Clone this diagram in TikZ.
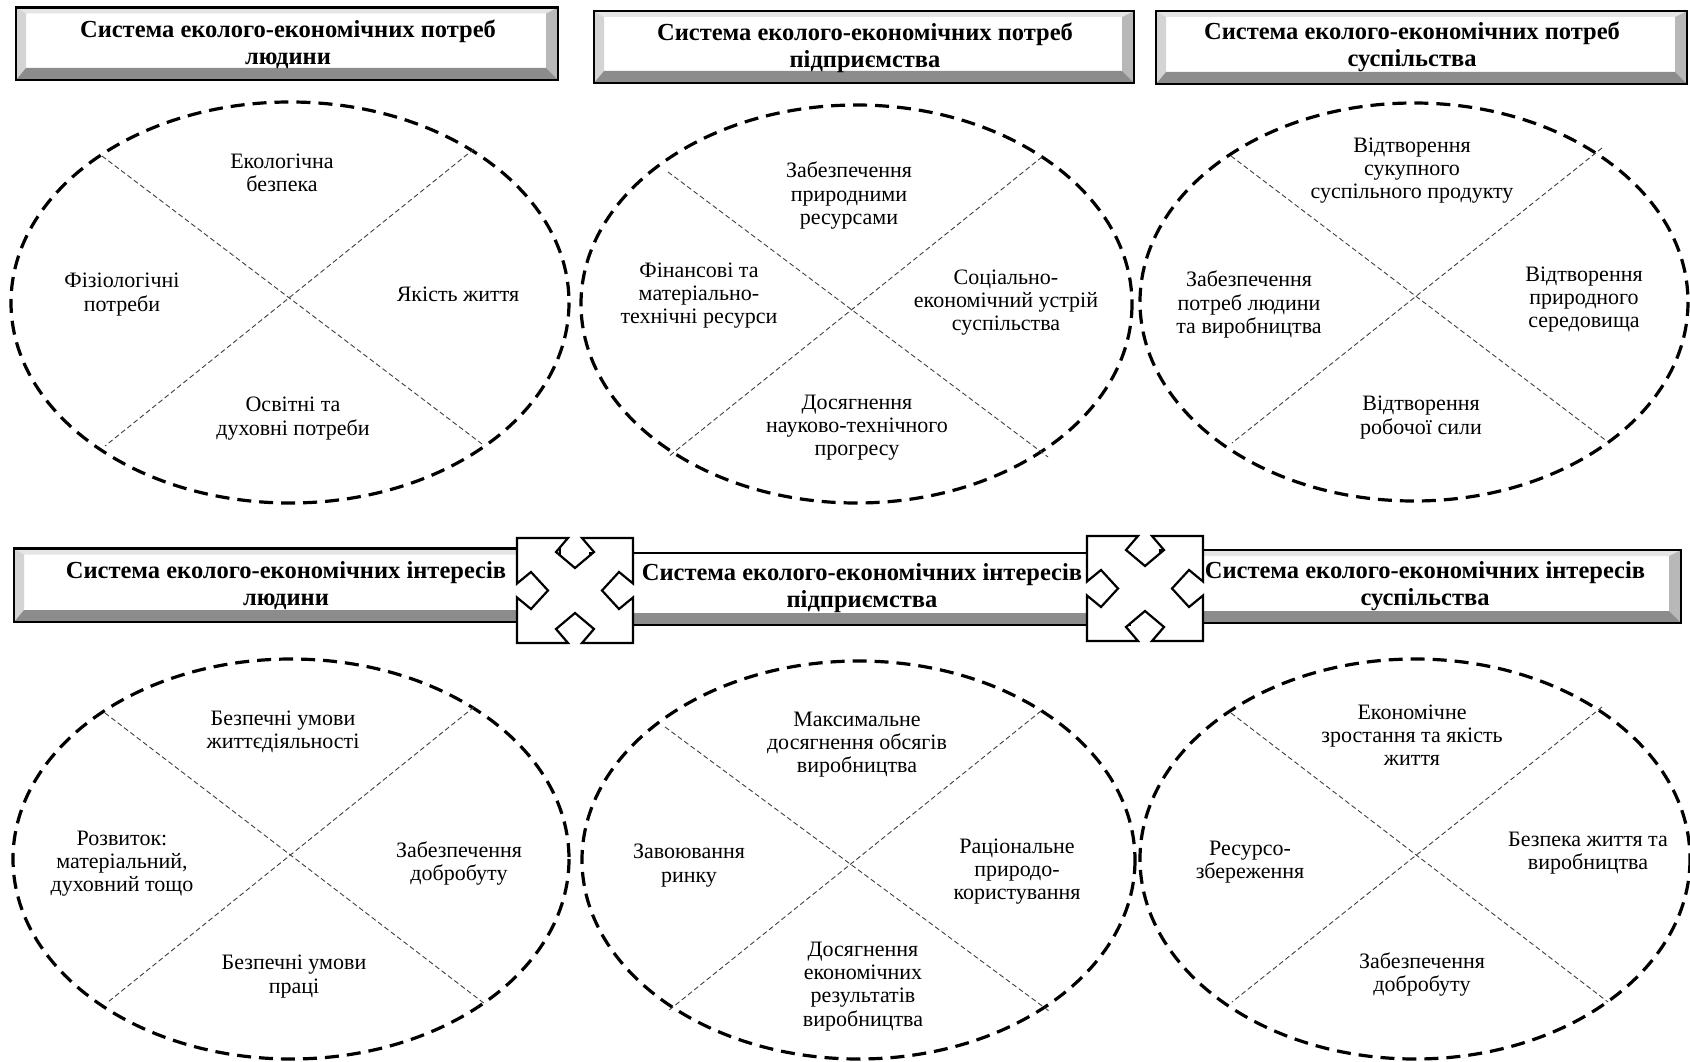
\documentclass[tikz,border=0pt]{standalone}
\usepackage{fontspec}
\setmainfont{Liberation Serif}
\newcommand{\bevbox}[8]{%
 \fill[bvtop] (#1,#2) -- (#3,#2) -- ({#3-#7},{#2+#6}) -- ({#1+#5},{#2+#6}) -- cycle;
 \fill[bvleft] (#1,#2) -- ({#1+#5},{#2+#6}) -- ({#1+#5},{#4-#8}) -- (#1,#4) -- cycle;
 \fill[bvright] (#3,#2) -- (#3,#4) -- ({#3-#7},{#4-#8}) -- ({#3-#7},{#2+#6}) -- cycle;
 \fill[bvbot] (#1,#4) -- (#3,#4) -- ({#3-#7},{#4-#8}) -- ({#1+#5},{#4-#8}) -- cycle;
 \draw[line width=2.5pt] (#1,#2) rectangle (#3,#4);
}
% cross box: x1 y1 x2 y2
\newcommand{\xbox}[4]{%
 \pgfmathsetmacro{\cxx}{(#1+#3)/2}\pgfmathsetmacro{\cyy}{(#2+#4)/2}%
 \filldraw[fill=white,line width=2.2pt,line join=miter]
  (#1,#2) -- ({\cxx-7},#2) -- ({\cxx-19},{#2+14}) -- (\cxx,{#2+30}) -- ({\cxx+19},{#2+14}) -- ({\cxx+7},#2)
  -- (#3,#2) -- (#3,{\cyy-7}) -- ({#3-14},{\cyy-18.5}) -- ({#3-31},\cyy) -- ({#3-14},{\cyy+18.5}) -- (#3,{\cyy+7})
  -- (#3,#4) -- ({\cxx+7},#4) -- ({\cxx+19},{#4-14}) -- (\cxx,{#4-30}) -- ({\cxx-19},{#4-14}) -- ({\cxx-7},#4)
  -- (#1,#4) -- (#1,{\cyy+7}) -- ({#1+14},{\cyy+18.5}) -- ({#1+31},\cyy) -- ({#1+14},{\cyy-18.5}) -- (#1,{\cyy-7}) -- cycle;
}
\begin{document}
\begin{tikzpicture}[x=1pt,y=-1pt,
 ell/.style={line width=3.2pt, dash pattern=on 14pt off 8pt},
 xline/.style={line width=0.9pt, dash pattern=on 5pt off 3pt, black!75},
 txt/.style={align=center, inner sep=0pt, yshift=-2.5pt, font=\fontsize{22}{23.2}\selectfont},
 htxt/.style={align=center, inner sep=0pt, yshift=-1.5pt, font=\bfseries\fontsize{24.5}{27}\selectfont},
 bvtop/.style={fill=black!10},
 bvleft/.style={fill=black!17},
 bvright/.style={fill=black!28},
 bvbot/.style={fill=black!45},
]
\fill[white] (0,0) rectangle (1690,1062);
\useasboundingbox (0,0) rectangle (1690,1062);

% ---------- top headers ----------
\bevbox{16}{7.5}{558}{80}{10}{6}{12}{12}
\bevbox{594}{11}{1134}{83}{10}{6}{12}{12}
\bevbox{1156}{11}{1687}{84}{10}{6}{12}{12}
\node[htxt] (h1) at (288,43) {Система еколого-економічних потреб\\людини};
\node[htxt] (h2) at (865,46) {Система еколого-економічних потреб\\підприємства};
\node[htxt] (h3) at (1412,45) {Система еколого-економічних потреб\\суспільства};

% ---------- top ellipses ----------
\draw[ell] (290,302.5) ellipse [x radius=279, y radius=200.5];
\draw[ell] (856.5,304) ellipse [x radius=275.5, y radius=199];
\draw[ell] (1414,302) ellipse [x radius=274, y radius=199];

\coordinate (a1) at (102,156); \coordinate (a2) at (474,149);
\coordinate (a3) at (105,446); \coordinate (a4) at (482,444);
\draw[xline] (a1) -- (a4); \draw[xline] (a2) -- (a3);
\coordinate (b1) at (668,172); \coordinate (b2) at (1042,157);
\coordinate (b3) at (668,457); \coordinate (b4) at (1048,457);
\draw[xline] (b1) -- (b4); \draw[xline] (b2) -- (b3);
\coordinate (c1) at (1231,156); \coordinate (c2) at (1602,148);
\coordinate (c3) at (1232,443); \coordinate (c4) at (1608,442);
\draw[xline] (c1) -- (c4); \draw[xline] (c2) -- (c3);

\node[txt] (t11) at (282,170) {Екологічна\\безпека};
\node[txt] (t12) at (122,292) {Фізіологічні\\потреби};
\node[txt] (t13) at (458,292) {Якість життя};
\node[txt] (t14) at (293,416) {Освітні та\\духовні потреби};

\node[txt] (t21) at (849,193) {Забезпечення\\природними\\ресурсами};
\node[txt] (t22) at (699,293) {Фінансові та\\матеріально-\\технічні ресурси};
\node[txt] (t23) at (1006,300) {Соціально-\\економічний устрій\\суспільства};
\node[txt] (t24) at (857,425) {Досягнення\\науково-технічного\\прогресу};

\node[txt] (t31) at (1412,168) {Відтворення\\сукупного\\суспільного продукту};
\node[txt] (t32) at (1249,302) {Забезпечення\\потреб людини\\та виробництва};
\node[txt] (t33) at (1584,297) {Відтворення\\природного\\середовища};
\node[txt] (t34) at (1421,415) {Відтворення\\робочої сили};

% ---------- bottom header bars ----------
\bevbox{14}{548.5}{560}{622}{10}{6}{0}{12}
\bevbox{590}{553}{1130}{625}{0}{0}{0}{12}
\bevbox{1160}{550}{1681}{623}{0}{6}{12}{12}
\xbox{517}{538}{633}{643}
\xbox{1087}{536}{1203}{641}
\node[htxt] (h4) at (286,584) {Система еколого-економічних інтересів\\людини};
\node[htxt] (h5) at (862,587) {Система еколого-економічних інтересів\\підприємства};
\node[htxt] (h6) at (1425,585) {Система еколого-економічних інтересів\\суспільства};

% ---------- bottom ellipses ----------
\draw[ell] (291,859) ellipse [x radius=278, y radius=200];
\draw[ell] (858.5,860) ellipse [x radius=276.5, y radius=199];
\draw[ell] (1415,859) ellipse [x radius=275, y radius=200];

\coordinate (d1) at (105,713); \coordinate (d2) at (474,707);
\coordinate (d3) at (108,1002); \coordinate (d4) at (485,1004);
\draw[xline] (d1) -- (d4); \draw[xline] (d2) -- (d3);
\coordinate (e1) at (665,727); \coordinate (e2) at (1041,711);
\coordinate (e3) at (668,1011); \coordinate (e4) at (1049,1011);
\draw[xline] (e1) -- (e4); \draw[xline] (e2) -- (e3);
\coordinate (f1) at (1231,713); \coordinate (f2) at (1602,707);
\coordinate (f3) at (1232,1002); \coordinate (f4) at (1608,1002);
\draw[xline] (f1) -- (f4); \draw[xline] (f2) -- (f3);

\node[txt] (t41) at (283,729) {Безпечні умови\\життєдіяльності};
\node[txt] (t42) at (122,861) {Розвиток:\\матеріальний,\\духовний тощо};
\node[txt] (t43) at (459,861) {Забезпечення\\добробуту};
\node[txt] (t44) at (294,974) {Безпечні умови\\праці};

\node[txt] (t51) at (857,742) {Максимальне\\досягнення обсягів\\виробництва};
\node[txt] (t52) at (689,863) {Завоювання\\ринку};
\node[txt] (t53) at (1017,869) {Раціональне\\природо-\\користування};
\node[txt] (t54) at (863,984) {Досягнення\\економічних\\результатів\\виробництва};

\node[txt] (t61) at (1412,733) {Економічне\\зростання та якість\\життя};
\node[txt] (t62) at (1250,860) {Ресурсо-\\збереження};
\node[txt] (t63) at (1588,851) {Безпека життя та\\виробництва};
\node[txt] (t64) at (1422,972) {Забезпечення\\добробуту};
\end{tikzpicture}
\end{document}
